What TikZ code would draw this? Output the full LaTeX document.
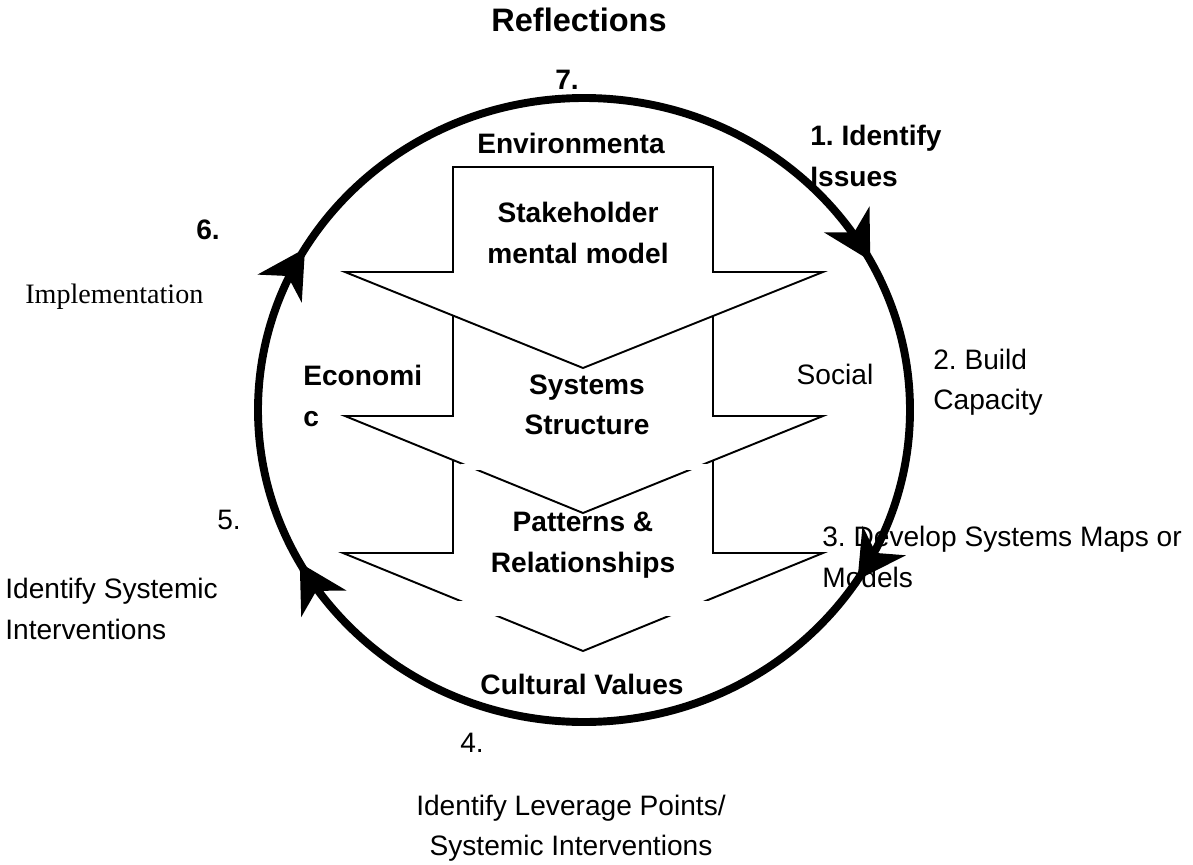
\documentclass[tikz,border=0pt]{standalone}
\usepackage{fontspec}
\setmainfont{Liberation Sans}
\newfontfamily\timesfont{Liberation Serif}
\usetikzlibrary{arrows.meta,decorations.markings}
\frenchspacing

\tikzset{cyclehead/.tip={Stealth[length=0.95cm,width=1.05cm,inset=0.3cm,line width=0pt]}}

\begin{document}
\begin{tikzpicture}[x=0.02cm, y=-0.02cm,
        lbl/.style={font=\fontsize{16}{23}\selectfont, inner sep=0pt},
        blbl/.style={font=\fontsize{16}{23}\selectfont\bfseries, inner sep=0pt},
        levelarrow/.style={draw, fill=white, line width=1.1pt, line join=miter},
        loopring/.style={line width=4.5pt, postaction={decorate},
            decoration={markings,
                mark=at position 0.090 with {\arrow{cyclehead}},
                mark=at position 0.420 with {\arrow{cyclehead}},
                mark=at position 0.585 with {\arrow{cyclehead}},
                mark=at position 0.922 with {\arrow{cyclehead}}}}]
        \useasboundingbox (0,0) rectangle (1193,865);

        \draw[levelarrow] (453,445) -- (713,445) -- (713,553) -- (823,553) -- (583,651) -- (343,553) -- (453,553) -- cycle;
        \fill[white] (440,601) rectangle (720,616);
        \draw[levelarrow] (453,300) -- (713,300) -- (713,416) -- (823,416) -- (583,513) -- (345,416) -- (453,416) -- cycle;
        \fill[white] (461,464) rectangle (709,470);
        \draw[levelarrow] (453,167) -- (713,167) -- (713,272) -- (823,272) -- (583,368) -- (345,272) -- (453,272) -- cycle;

        \node[blbl, font=\fontsize{18.5}{23}\selectfont\bfseries] (reflections) at (579,20) {Reflections};
        \node[blbl] (seven) at (567,80) {7.};
        \node[blbl] (environ) at (571,143) {Environmenta};
        \node[blbl, anchor=west, align=left] (issues) at (810,156) {1. Identify\\Issues};
        \node[blbl] (six) at (208,230) {6.};
        \node[lbl, font=\timesfont\fontsize{16}{23}\selectfont, anchor=west] (implement) at (25,297) {Implementation};
        \node[blbl, align=center] (mental) at (578,233) {Stakeholder\\mental model};
        \node[blbl, anchor=west, align=left] (economic) at (303,396) {Economi\\c};
        \node[blbl, align=center] (structure) at (587,405) {Systems\\Structure};
        \node[lbl] (social) at (835,374) {Social};
        \node[lbl, anchor=west, align=left] (capacity) at (933,382) {2. Build\\Capacity};
        \node[lbl] (five) at (229,520) {5.};
        \node[lbl, anchor=west, align=left] (systemic) at (5,609) {Identify Systemic\\Interventions};
        \node[blbl, align=center] (patterns) at (583,545) {Patterns \&\\Relationships};
        \node[lbl, anchor=west, align=left] (maps) at (822,557) {3. Develop Systems Maps or\\Models};
        \node[blbl] (cultural) at (582,684) {Cultural Values};
        \node[lbl] (four) at (472,743) {4.};
        \node[lbl, align=center] (leverage) at (571,828) {Identify Leverage Points/\\Systemic Interventions};

        \draw[loopring] (584,410) ellipse (326 and 312);
    \end{tikzpicture}
\end{document}
